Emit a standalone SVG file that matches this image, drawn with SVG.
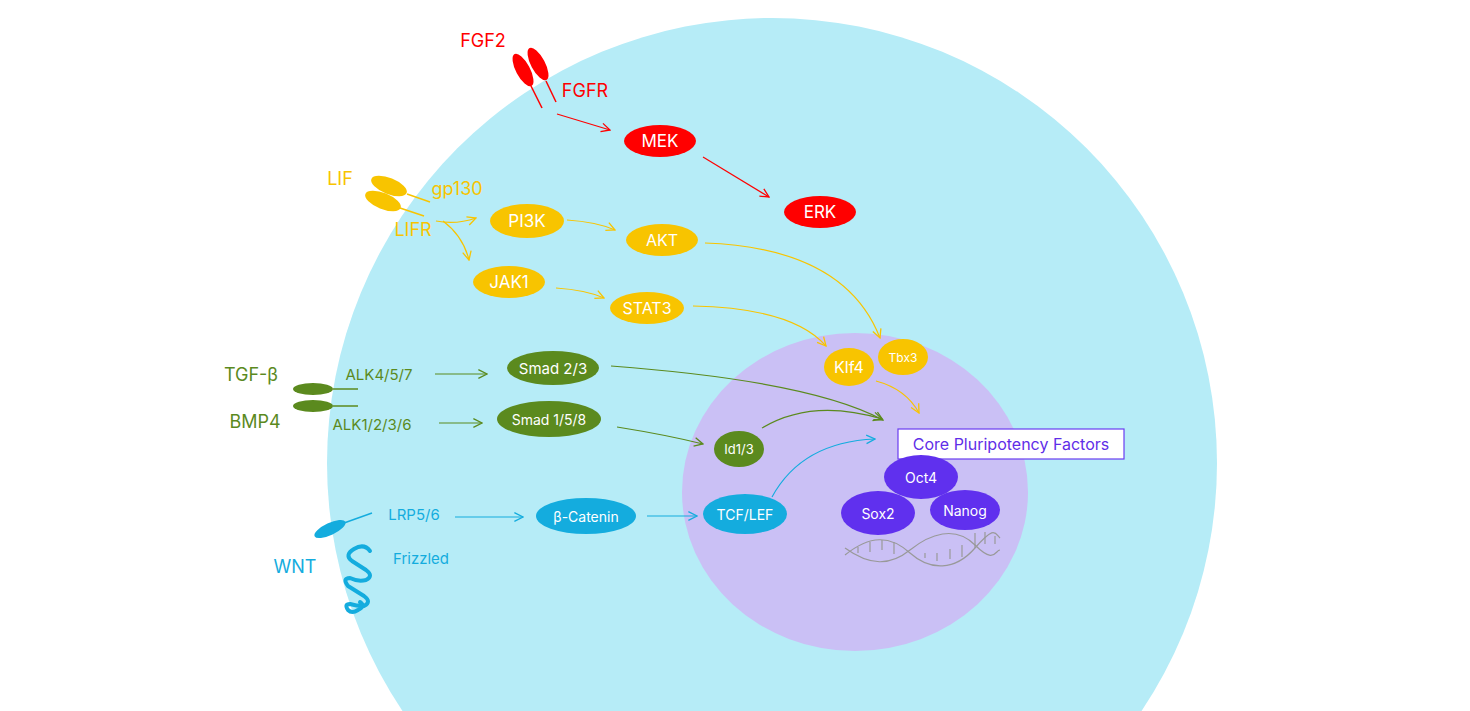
<svg xmlns="http://www.w3.org/2000/svg" width="1470" height="711" viewBox="0 0 1470 711" font-size="16">
<defs>
<style>
text{font-family:Inter,"Noto Sans",sans-serif;text-anchor:middle;dominant-baseline:central}
.w{fill:#fff}
.r{stroke:#f00}.y{stroke:#f8c400}.g{stroke:#5b8a1e}.b{stroke:#14acde}
.c path,.c line{fill:none;stroke-width:1.2}
</style>
<marker id="mr" viewBox="0 0 10 10" refX="9" refY="5" markerWidth="9" markerHeight="9" orient="auto"><path d="M1 1L9 5L1 9" fill="none" stroke="#f00" stroke-width="1.2"/></marker>
<marker id="my" viewBox="0 0 10 10" refX="9" refY="5" markerWidth="9" markerHeight="9" orient="auto"><path d="M1 1L9 5L1 9" fill="none" stroke="#f8c400" stroke-width="1.2"/></marker>
<marker id="mg" viewBox="0 0 10 10" refX="9" refY="5" markerWidth="9" markerHeight="9" orient="auto"><path d="M1 1L9 5L1 9" fill="none" stroke="#5b8a1e" stroke-width="1.2"/></marker>
<marker id="mb" viewBox="0 0 10 10" refX="9" refY="5" markerWidth="9" markerHeight="9" orient="auto"><path d="M1 1L9 5L1 9" fill="none" stroke="#14acde" stroke-width="1.2"/></marker>
</defs>
<rect width="1470" height="711" fill="#fff"/>
<circle id="cell" cx="772" cy="463" r="445" fill="#b6ecf7"/>
<ellipse id="nucleus" cx="855" cy="492" rx="173" ry="159" fill="#cac0f5"/>
<g id="receptors">
<text x="483" y="40" fill="#f00" font-size="18">FGF2</text>
<ellipse cx="523" cy="70" rx="7" ry="18" transform="rotate(-28 523 70)" fill="#f00"/>
<ellipse cx="538" cy="64" rx="7" ry="18" transform="rotate(-28 538 64)" fill="#f00"/>
<line x1="531" y1="86" x2="542" y2="108" stroke="#f00" stroke-width="1.5"/>
<line x1="546" y1="81" x2="556" y2="102" stroke="#f00" stroke-width="1.5"/>
<text x="585" y="90" fill="#f00" font-size="18">FGFR</text>
<text x="340" y="178" fill="#f8c400" font-size="18">LIF</text>
<ellipse cx="389" cy="186" rx="19" ry="8" transform="rotate(22 389 186)" fill="#f8c400"/>
<ellipse cx="383" cy="201" rx="19" ry="8" transform="rotate(22 383 201)" fill="#f8c400"/>
<line x1="407" y1="194" x2="430" y2="202" stroke="#f8c400" stroke-width="1.5"/>
<line x1="400" y1="208" x2="424" y2="216" stroke="#f8c400" stroke-width="1.5"/>
<text x="457" y="188" fill="#f8c400" font-size="18">gp130</text>
<text x="413" y="229" fill="#f8c400" font-size="18">LIFR</text>
<text x="251" y="374" fill="#5b8a1e" font-size="18">TGF-β</text>
<ellipse cx="313" cy="389" rx="20" ry="6" fill="#5b8a1e"/>
<ellipse cx="313" cy="406" rx="20" ry="6" fill="#5b8a1e"/>
<line x1="333" y1="389" x2="358" y2="389" stroke="#5b8a1e" stroke-width="1.5"/>
<line x1="333" y1="406" x2="358" y2="406" stroke="#5b8a1e" stroke-width="1.5"/>
<text x="255" y="421" fill="#5b8a1e" font-size="18">BMP4</text>
<text x="379" y="374" fill="#5b8a1e" font-size="15">ALK4/5/7</text>
<text x="372" y="424" fill="#5b8a1e" font-size="15">ALK1/2/3/6</text>
<ellipse cx="330" cy="529" rx="17" ry="6" transform="rotate(-25 330 529)" fill="#14acde"/>
<line x1="344" y1="523" x2="372" y2="513" stroke="#14acde" stroke-width="1.5"/>
<text x="414" y="514" fill="#14acde" font-size="15">LRP5/6</text>
<text x="295" y="566" fill="#14acde" font-size="18">WNT</text>
<path d="M370 551Q364 543 354 549Q344 555 352 561L366 570Q374 576 366 580Q358 582 350 578Q342 578 348 586L364 596Q372 602 364 606Q356 606 350 604Q344 604 348 610Q352 614 358 610Q366 606 360 602" fill="none" stroke="#14acde" stroke-width="4" stroke-linecap="round" stroke-linejoin="round"/>
<text x="421" y="558" fill="#14acde" font-size="15">Frizzled</text>
</g>
<g id="connectors" class="c">
<line class="r" x1="557" y1="114" x2="610" y2="130" marker-end="url(#mr)"/>
<line class="r" x1="703" y1="157" x2="769" y2="197" marker-end="url(#mr)"/>
<path class="y" d="M436 221q20 4 40-3" marker-end="url(#my)"/>
<path class="y" d="M443 221q20 15 26 39" marker-end="url(#my)"/>
<path class="y" d="M567 220q30 2 48 10" marker-end="url(#my)"/>
<path class="y" d="M556 288q30 2 48 10" marker-end="url(#my)"/>
<path class="y" d="M705 243q140 5 175 95" marker-end="url(#my)"/>
<path class="y" d="M693 306q100 2 133 40" marker-end="url(#my)"/>
<path class="y" d="M876 381q30 8 43 32" marker-end="url(#my)"/>
<line class="g" x1="435" y1="374" x2="487" y2="374" marker-end="url(#mg)"/>
<line class="g" x1="439" y1="423" x2="482" y2="423" marker-end="url(#mg)"/>
<path class="g" d="M611 366q200 15 272 54" marker-end="url(#mg)"/>
<path class="g" d="M617 427q50 8 86 17" marker-end="url(#mg)"/>
<path class="g" d="M762 428q50 -30 120 -9" marker-end="url(#mg)"/>
<line class="b" x1="455" y1="517" x2="523" y2="517" marker-end="url(#mb)"/>
<line class="b" x1="647" y1="516" x2="697" y2="516" marker-end="url(#mb)"/>
<path class="b" d="M772 497q30 -55 103 -58" marker-end="url(#mb)"/>
</g>
<g id="MEK"><ellipse cx="660" cy="141" rx="36" ry="16" fill="#f00"/><text class="w" x="660" y="141" font-size="17">MEK</text></g>
<g id="ERK"><ellipse cx="820" cy="212" rx="36" ry="16" fill="#f00"/><text class="w" x="820" y="212" font-size="17">ERK</text></g>
<g id="PI3K"><ellipse cx="527" cy="221" rx="37" ry="17" fill="#f8c400"/><text class="w" x="527" y="221" font-size="17">PI3K</text></g>
<g id="AKT"><ellipse cx="662" cy="240" rx="36" ry="16" fill="#f8c400"/><text class="w" x="662" y="240">AKT</text></g>
<g id="JAK1"><ellipse cx="509" cy="282" rx="36" ry="16" fill="#f8c400"/><text class="w" x="509" y="282" font-size="17">JAK1</text></g>
<g id="STAT3"><ellipse cx="647" cy="308" rx="37" ry="16" fill="#f8c400"/><text class="w" x="647" y="308">STAT3</text></g>
<g id="Klf4"><ellipse cx="849" cy="367" rx="25" ry="19" fill="#f8c400"/><text class="w" x="849" y="367">Klf4</text></g>
<g id="Tbx3"><ellipse cx="903" cy="357" rx="25" ry="18" fill="#f8c400"/><text class="w" x="903" y="357" font-size="12">Tbx3</text></g>
<g id="Smad23"><ellipse cx="553" cy="368" rx="46" ry="17" fill="#5b8a1e"/><text class="w" x="553" y="368" font-size="15">Smad 2/3</text></g>
<g id="Smad158"><ellipse cx="549" cy="419" rx="52" ry="18" fill="#5b8a1e"/><text class="w" x="549" y="419" font-size="14">Smad 1/5/8</text></g>
<g id="Id13"><ellipse cx="739" cy="449" rx="25" ry="18" fill="#5b8a1e"/><text class="w" x="739" y="449" font-size="13">Id1/3</text></g>
<g id="bCatenin"><ellipse cx="586" cy="516" rx="50" ry="18" fill="#14acde"/><text class="w" x="586" y="516" font-size="14">β-Catenin</text></g>
<g id="TCFLEF"><ellipse cx="745" cy="514" rx="42" ry="20" fill="#14acde"/><text class="w" x="745" y="514" font-size="14">TCF/LEF</text></g>
<g id="core"><rect x="898" y="429" width="226" height="30" fill="#fff" stroke="#6a3cf0" stroke-width="1.2"/><text x="1011" y="444" fill="#5f2ee8">Core Pluripotency Factors</text></g>
<g id="Oct4"><ellipse cx="921" cy="477" rx="37" ry="22" fill="#6030ee"/><text class="w" x="921" y="477" font-size="14">Oct4</text></g>
<g id="Sox2"><ellipse cx="878" cy="513" rx="37" ry="22" fill="#6030ee"/><text class="w" x="878" y="513" font-size="14">Sox2</text></g>
<g id="Nanog"><ellipse cx="965" cy="510" rx="35" ry="20" fill="#6030ee"/><text class="w" x="965" y="510" font-size="14">Nanog</text></g>
<g id="dna" fill="none" stroke="#999" stroke-width="1.2">
<path d="M845 555c25-20 45-20 65 -2s45 18 65-5 20-15 25-10"/>
<path d="M845 548c25 18 45 18 65 2s45-25 65-5 20 5 25 5"/>
<path d="M858 547v6M870 542v10M882 540v10M894 542v12M925 553v5M937 553v8M950 549v10M962 545v12M975 533v15M985 532v12M995 536v8"/>
</g>
</svg>
